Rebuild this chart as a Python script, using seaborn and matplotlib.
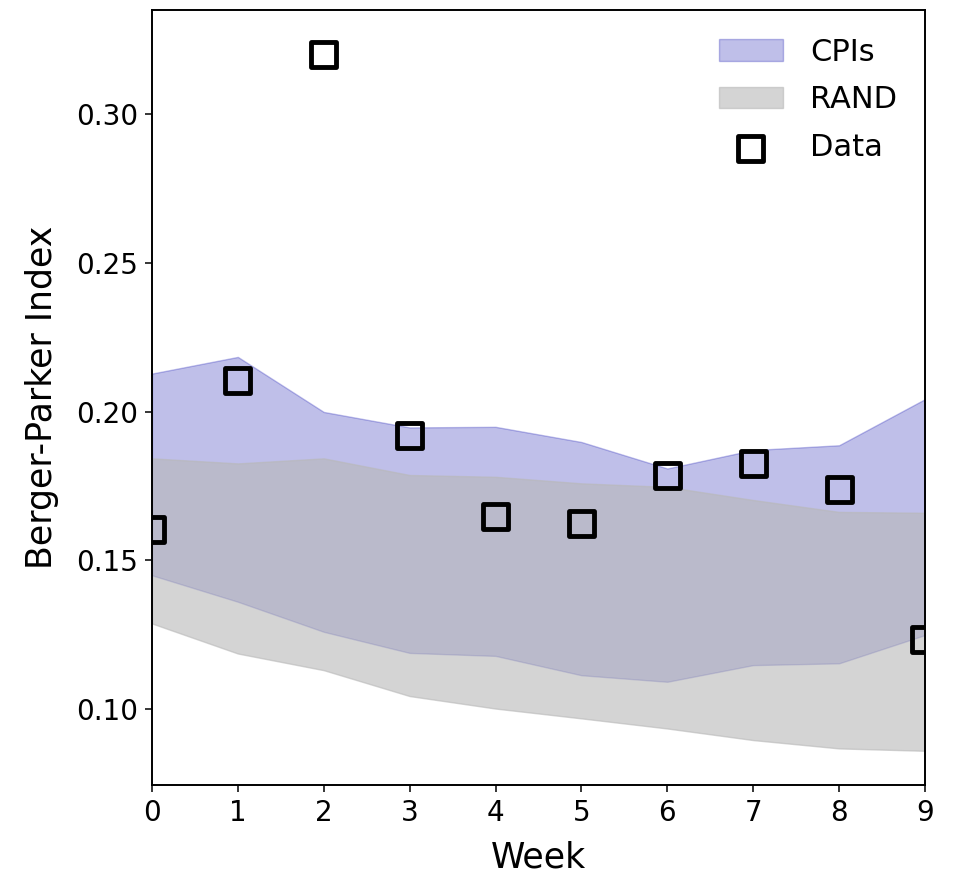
import matplotlib
matplotlib.use("Agg")
import matplotlib.pyplot as plt
import seaborn as sns
import numpy as np

# Weekly values
weeks = [0, 1, 2, 3, 4, 5, 6, 7, 8, 9]
cpi_upper = [0.2128, 0.2184, 0.1999, 0.1947, 0.1949, 0.1898, 0.1809, 0.1871, 0.1887, 0.2042]
cpi_lower = [0.1450, 0.1361, 0.1260, 0.1189, 0.1179, 0.1114, 0.1092, 0.1148, 0.1154, 0.1249]
rand_upper = [0.1843, 0.1826, 0.1843, 0.1787, 0.1781, 0.1759, 0.1747, 0.1703, 0.1663, 0.1660]
rand_lower = [0.1288, 0.1187, 0.1131, 0.1044, 0.1002, 0.0969, 0.0935, 0.0896, 0.0868, 0.0860]
observed = [0.1605, 0.2106, 0.3201, 0.1920, 0.1648, 0.1624, 0.1787, 0.1827, 0.1739, 0.1235]
y_ticks = [0.10, 0.15, 0.20, 0.25, 0.30]

sns.set_theme(style="ticks")
plt.rcParams["font.family"] = ["DejaVu Sans"]
plt.rcParams.update({
    "axes.linewidth": 1.4,
    "xtick.major.width": 1.1,
    "ytick.major.width": 1.1,
    "xtick.major.size": 5,
    "ytick.major.size": 5,
    "axes.edgecolor": "black",
    "axes.labelcolor": "black",
    "text.color": "black",
    "xtick.color": "black",
    "ytick.color": "black",
})

fig = plt.figure(figsize=(9.6, 8.73), dpi=100)
ax = fig.add_axes([0.1583, 0.1008, 0.8052, 0.8877])

ax.fill_between(weeks, cpi_lower, cpi_upper, color=(0.0, 0.0, 0.67), alpha=0.25,
                linewidth=1.0, label="CPIs")
ax.fill_between(weeks, rand_lower, rand_upper, color=(0.72, 0.72, 0.72), alpha=0.6,
                linewidth=1.0, label="RAND")
sns.scatterplot(x=weeks, y=observed, marker="s", s=324, facecolors="none",
                edgecolor="black", linewidth=3.5, label="Data", ax=ax, zorder=3)

ax.set_xlim(0, 9)
ax.set_ylim(0.0745, 0.335)
ax.set_xticks(weeks)
ax.set_yticks(y_ticks)
ax.set_yticklabels([f"{v:.2f}" for v in y_ticks])
ax.tick_params(axis="both", labelsize=20, pad=5, direction="out")
ax.set_xlabel("Week", fontsize=25, labelpad=10)
ax.set_ylabel("Berger-Parker Index", fontsize=25, labelpad=12)
for s in ax.spines.values():
    s.set_visible(True)

ax.legend(loc="upper right", frameon=False, fontsize=22, handlelength=2.1,
          handletextpad=0.9, labelspacing=0.62, borderaxespad=0.5)

fig.savefig("out.png", dpi=100)
